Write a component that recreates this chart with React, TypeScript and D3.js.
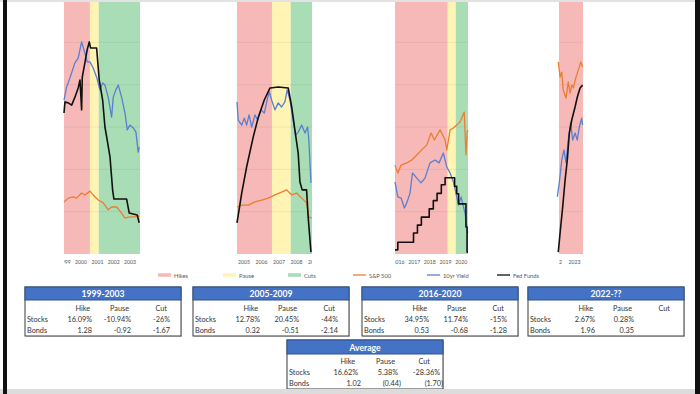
import * as d3 from "d3";

type Pt = [number, number];
type Phase = [string, number, number];

// ---- data (x = decimal year, y = chart units, rates roughly in %) ----
const phases1999: Phase[] = [["Hikes", 1998.95, 2000.54], ["Pause", 2000.54, 2001.08], ["Cuts", 2001.08, 2003.61]];
const phases2005: Phase[] = [["Hikes", 2004.6, 2006.6], ["Pause", 2006.6, 2007.67], ["Cuts", 2007.67, 2008.89]];
const phases2016: Phase[] = [["Hikes", 2015.78, 2019.14], ["Pause", 2019.14, 2019.65], ["Cuts", 2019.65, 2020.43]];
const phases2022: Phase[] = [["Hikes", 2022.16, 2023.46]];

const years1999 = [1999, 2000, 2001, 2002, 2003, 2004];
const years2005 = [2005, 2006, 2007, 2008, 2009];
const years2016 = [2016, 2017, 2018, 2019, 2020, 2021];
const years2022 = [2022, 2023];

const sp1999: Pt[] = [
  [1998.95, 1.64], [1999.21, 1.76], [1999.52, 1.8], [1999.72, 1.76], [2000.03, 1.92], [2000.23, 1.86],
  [2000.54, 1.98], [2000.74, 1.86], [2001.05, 1.7], [2001.36, 1.61], [2001.66, 1.39], [2001.87, 1.48],
  [2002.18, 1.48], [2002.48, 1.29], [2002.69, 1.13], [2002.99, 1.17], [2003.3, 1.17], [2003.56, 1.2],
];
const tenYr1999: Pt[] = [
  [1998.95, 4.85], [1999.11, 5.26], [1999.31, 5.54], [1999.62, 6.02], [1999.82, 6.17], [2000.03, 6.68],
  [2000.23, 6.33], [2000.37, 6.05], [2000.54, 6.05], [2000.74, 5.86], [2000.95, 5.57], [2001.15, 5.17],
  [2001.32, 5.39], [2001.46, 5.32], [2001.66, 4.94], [2001.87, 4.31], [2001.97, 4.94], [2002.13, 5.17],
  [2002.28, 5.32], [2002.48, 4.94], [2002.69, 4.44], [2002.83, 3.91], [2002.99, 4.06], [2003.2, 3.97],
  [2003.36, 3.84], [2003.5, 3.21], [2003.56, 3.37],
];
const fed1999: Pt[] = [
  [1998.95, 4.44], [1999.01, 4.79], [1999.21, 4.76], [1999.42, 4.69], [1999.62, 4.94], [1999.82, 5.23],
  [1999.93, 5.48], [2000.03, 4.54], [2000.07, 5.57], [2000.23, 6.02], [2000.37, 6.43], [2000.5, 6.68],
  [2000.58, 6.49], [2000.95, 6.49], [2001.11, 5.48], [2001.32, 4.85], [2001.46, 4.0], [2001.6, 3.59],
  [2001.77, 3.06], [2001.93, 2.02], [2002.01, 1.73], [2002.79, 1.73], [2002.95, 1.29], [2003.44, 1.23],
  [2003.56, 0.98],
];

const sp2005: Pt[] = [
  [2004.6, 1.48], [2004.87, 1.54], [2005.25, 1.54], [2005.63, 1.64], [2006.01, 1.7], [2006.39, 1.76],
  [2006.77, 1.86], [2007.15, 1.95], [2007.44, 2.02], [2007.73, 1.86], [2008.01, 1.92], [2008.3, 1.76],
  [2008.58, 1.61], [2008.71, 1.17], [2008.87, 1.13],
];
const tenYr2005: Pt[] = [
  [2004.6, 4.79], [2004.67, 4.22], [2004.87, 4.06], [2005.02, 4.28], [2005.15, 4.06], [2005.29, 4.38],
  [2005.44, 4.0], [2005.63, 4.38], [2005.78, 4.22], [2005.97, 4.54], [2006.16, 4.44], [2006.35, 4.91],
  [2006.45, 5.1], [2006.58, 4.85], [2006.77, 4.54], [2006.96, 4.76], [2007.15, 4.63], [2007.34, 4.79],
  [2007.47, 5.17], [2007.63, 4.85], [2007.78, 4.31], [2007.95, 3.75], [2008.1, 3.84], [2008.3, 4.06],
  [2008.49, 3.81], [2008.64, 4.0], [2008.71, 3.59], [2008.83, 2.24],
];
const fed2005: Pt[] = [
  [2004.6, 0.98], [2004.87, 1.92], [2005.15, 2.74], [2005.53, 3.69], [2005.82, 4.31], [2006.16, 4.85],
  [2006.49, 5.23], [2006.96, 5.26], [2007.53, 5.23], [2007.73, 4.63], [2007.91, 3.91], [2008.1, 3.18],
  [2008.2, 2.27], [2008.33, 2.02], [2008.58, 2.02], [2008.67, 1.17], [2008.83, 0.06],
];

const sp2016: Pt[] = [
  [2015.78, 2.8], [2015.96, 2.55], [2016.17, 2.8], [2016.53, 2.87], [2016.85, 2.96], [2017.17, 3.12],
  [2017.48, 3.28], [2017.8, 3.43], [2018.08, 3.81], [2018.29, 3.59], [2018.65, 3.91], [2018.97, 3.59],
  [2019.08, 3.28], [2019.29, 3.91], [2019.5, 3.97], [2019.71, 4.06], [2019.92, 4.16], [2020.19, 4.47],
  [2020.3, 3.12], [2020.38, 3.84], [2020.43, 3.91],
];
const tenYr2016: Pt[] = [
  [2015.78, 2.27], [2015.96, 1.8], [2016.17, 1.76], [2016.38, 1.45], [2016.53, 1.61], [2016.74, 1.92],
  [2016.89, 2.55], [2017.17, 2.39], [2017.44, 2.24], [2017.69, 2.39], [2018.01, 2.87], [2018.33, 2.96],
  [2018.59, 2.87], [2018.86, 3.18], [2019.08, 2.74], [2019.29, 2.55], [2019.5, 2.27], [2019.65, 1.95],
  [2019.82, 1.54], [2019.99, 1.8], [2020.24, 1.29], [2020.41, 0.66],
];
// stepped effective fed funds
const fed2016: Pt[] = [
  [2015.78, 0.13], [2015.96, 0.37], [2016.96, 0.66], [2017.21, 0.91], [2017.46, 1.16], [2017.96, 1.42],
  [2018.22, 1.68], [2018.46, 1.91], [2018.73, 2.18], [2018.97, 2.4], [2019.58, 2.13], [2019.71, 1.9],
  [2019.83, 1.58], [2020.3, 0.85], [2020.37, 0.06], [2020.43, 0.06],
];

const sp2022: Pt[] = [
  [2022.12, 6.05], [2022.22, 5.57], [2022.31, 5.73], [2022.39, 5.17], [2022.54, 4.91], [2022.66, 5.42],
  [2022.76, 5.07], [2022.85, 5.32], [2022.94, 5.23], [2023.08, 5.57], [2023.21, 5.8], [2023.34, 6.05],
  [2023.44, 5.89],
];
const tenYr2022: Pt[] = [
  [2022.07, 1.8], [2022.18, 2.27], [2022.31, 2.96], [2022.43, 3.28], [2022.54, 2.87], [2022.66, 3.59],
  [2022.79, 4.13], [2022.9, 3.59], [2023.03, 3.81], [2023.15, 3.59], [2023.26, 4.0], [2023.39, 4.28],
  [2023.44, 4.06],
];
const fed2022: Pt[] = [
  [2022.12, 0.06], [2022.25, 0.85], [2022.36, 1.48], [2022.49, 2.33], [2022.61, 2.96], [2022.72, 3.81],
  [2022.85, 4.22], [2023.03, 4.63], [2023.15, 4.94], [2023.3, 5.23], [2023.44, 5.32],
];

const legendLabels = ["Hikes", "Pause", "Cuts", "S&P 500", "10yr Yield", "Fed Funds"];

const colHeads = ["Hike", "Pause", "Cut"];
const tableTitles = ["1999-2003", "2005-2009", "2016-2020", "2022-??"];
const stocksRows = [
  ["16.09%", "-10.94%", "-26%"],
  ["12.78%", "20.45%", "-44%"],
  ["34.95%", "11.74%", "-15%"],
  ["2.67%", "0.28%", ""],
];
const bondsRows = [
  ["1.28", "-0.92", "-1.67"],
  ["0.32", "-0.51", "-2.14"],
  ["0.53", "-0.68", "-1.28"],
  ["1.96", "0.35", ""],
];
const avgStocks = ["16.62%", "5.38%", "-28.36%"];
const avgBonds = ["1.02", "(0.44)", "(1.70)"];

// ---- layout & style ----
const W = 700;
const H = 394;
const PLOT_BOTTOM = 254;
const panelX: [number, number][] = [[64, 140], [237, 312], [395, 468], [559, 583]];
const tableX = [25, 193, 362, 528];
const phaseColor: Record<string, string> = { Hikes: "#F6B9B7", Pause: "#FFF4B3", Cuts: "#A9DDB5" };
const lineColor = { sp: "#ED7D31", ten: "#5A7FD0", fed: "#111111" };
const legendSwatch = ["#F6B9B7", "#FFF4B3", "#A9DDB5", lineColor.sp, lineColor.ten, lineColor.fed];
const legendX = [158, 223, 288, 353, 427, 497];
const FONT = "Lato, 'Open Sans', sans-serif";

const panels = [
  { phases: phases1999, years: years1999, sp: sp1999, ten: tenYr1999, fed: fed1999, step: false },
  { phases: phases2005, years: years2005, sp: sp2005, ten: tenYr2005, fed: fed2005, step: false },
  { phases: phases2016, years: years2016, sp: sp2016, ten: tenYr2016, fed: fed2016, step: true },
  { phases: phases2022, years: years2022, sp: sp2022, ten: tenYr2022, fed: fed2022, step: false },
];

const yScale = d3.scaleLinear().domain([0, 8]).range([PLOT_BOTTOM, 0]);
const gridVals = d3.range(1, 6).map((i) => (i * 8) / 6);

function Panel({ idx }: { idx: number }) {
  const p = panels[idx];
  const [x0, x1] = panelX[idx];
  const x = d3
    .scaleLinear()
    .domain([p.phases[0][1], p.phases[p.phases.length - 1][2]])
    .range([x0, x1]);
  const line = d3
    .line<Pt>()
    .x((d) => x(d[0]))
    .y((d) => yScale(d[1]));
  const stepLine = d3
    .line<Pt>()
    .x((d) => x(d[0]))
    .y((d) => yScale(d[1]))
    .curve(d3.curveStepAfter);
  const clipId = `tickclip${idx}`;
  return (
    <g>
      <defs>
        <clipPath id={clipId}>
          <rect x={x0} y={255} width={x1 - x0} height={14} />
        </clipPath>
      </defs>
      {p.phases.map(([name, a, b]) => (
        <rect key={name} x={x(a)} y={0} width={x(b) - x(a)} height={PLOT_BOTTOM} fill={phaseColor[name]} />
      ))}
      {gridVals.map((v) => (
        <line key={v} x1={x0} x2={x1} y1={yScale(v)} y2={yScale(v)} stroke="#000" strokeOpacity={0.06} />
      ))}
      <path d={line(p.sp) || ""} fill="none" stroke={lineColor.sp} strokeWidth={1.3} strokeLinejoin="round" />
      <path d={line(p.ten) || ""} fill="none" stroke={lineColor.ten} strokeWidth={1.3} strokeLinejoin="round" />
      <path
        d={(p.step ? stepLine(p.fed) : line(p.fed)) || ""}
        fill="none"
        stroke={lineColor.fed}
        strokeWidth={1.6}
        strokeLinejoin="round"
      />
      <g clipPath={`url(#${clipId})`}>
        {p.years.map((yr) => (
          <text
            key={yr}
            x={x(yr)}
            y={262}
            textAnchor="middle"
            dominantBaseline="central"
            fontSize={5.2}
            fill="#595959"
            fontFamily={FONT}
          >
            {yr}
          </text>
        ))}
      </g>
    </g>
  );
}

function StatTable(props: {
  x: number;
  y: number;
  headH: number;
  title: string;
  stocks: string[];
  bonds: string[];
  cols: number[];
  heads: number[];
  bondShift: number;
}) {
  const { x, y, headH, title, stocks, bonds, cols, heads, bondShift } = props;
  const w = 156;
  const h = 49;
  const txt = { fontSize: 7.3, fill: "#333", fontFamily: FONT, dominantBaseline: "central" as const };
  return (
    <g>
      <rect x={x + 1} y={y + 1} width={w} height={h} fill="#bbb" opacity={0.5} />
      <rect x={x} y={y} width={w} height={h} fill="#fff" stroke="#3a3a3a" strokeWidth={1} />
      <rect x={x} y={y} width={w} height={headH} fill="#4472C4" stroke="#2F528F" strokeWidth={1} />
      <text
        x={x + w / 2}
        y={y + headH / 2 + 0.5}
        textAnchor="middle"
        dominantBaseline="central"
        fontSize={8.6}
        fontWeight="bold"
        fill="#fff"
        fontFamily={FONT}
      >
        {title}
      </text>
      {colHeads.map((c, i) => (
        <text key={c} x={x + heads[i]} y={y + 21} textAnchor="end" {...txt}>
          {c}
        </text>
      ))}
      <text x={x + 2} y={y + 32} {...txt}>
        Stocks
      </text>
      <text x={x + 2} y={y + 43} {...txt}>
        Bonds
      </text>
      {stocks.map((s, i) => (
        <text key={"s" + i} x={x + cols[i]} y={y + 32} textAnchor="end" {...txt}>
          {s}
        </text>
      ))}
      {bonds.map((s, i) => (
        <text key={"b" + i} x={x + cols[i] + bondShift} y={y + 43} textAnchor="end" {...txt}>
          {s}
        </text>
      ))}
    </g>
  );
}

export default function App() {
  return (
    <svg
      width={W}
      height={H}
      viewBox={`0 0 ${W} ${H}`}
      style={{ position: "absolute", left: 0, top: 0, display: "block" }}
    >
      <rect x={0} y={0} width={W} height={H} fill="#fff" />
      {panels.map((_, i) => (
        <Panel key={i} idx={i} />
      ))}
      {legendLabels.map((lab, i) => (
        <g key={lab}>
          <line
            x1={legendX[i]}
            x2={legendX[i] + 13}
            y1={275}
            y2={275}
            stroke={legendSwatch[i]}
            strokeWidth={i < 3 ? 3.5 : 1.3}
          />
          <text
            x={legendX[i] + 16}
            y={275}
            dominantBaseline="central"
            fontSize={5.8}
            fill="#595959"
            fontFamily={FONT}
          >
            {lab}
          </text>
        </g>
      ))}
      {tableTitles.map((t, i) => (
        <StatTable
          key={t}
          x={tableX[i]}
          y={287}
          headH={13}
          title={t}
          stocks={stocksRows[i]}
          bonds={bondsRows[i]}
          cols={[67, 106, 145]}
          heads={[65, 104, 142]}
          bondShift={0}
        />
      ))}
      <StatTable
        x={287}
        y={340}
        headH={14}
        title="Average"
        stocks={avgStocks}
        bonds={avgBonds}
        cols={[71, 111, 153]}
        heads={[68, 108, 143]}
        bondShift={3}
      />
      {/* slide frame */}
      <rect x={0} y={0} width={W} height={2} fill="#e2e2e2" />
      <rect x={0} y={389} width={W} height={5} fill="#dcdcdc" />
      <rect x={3} y={0} width={4} height={H} fill="#111" />
      <rect x={695} y={0} width={5} height={H} fill="#111" />
    </svg>
  );
}
